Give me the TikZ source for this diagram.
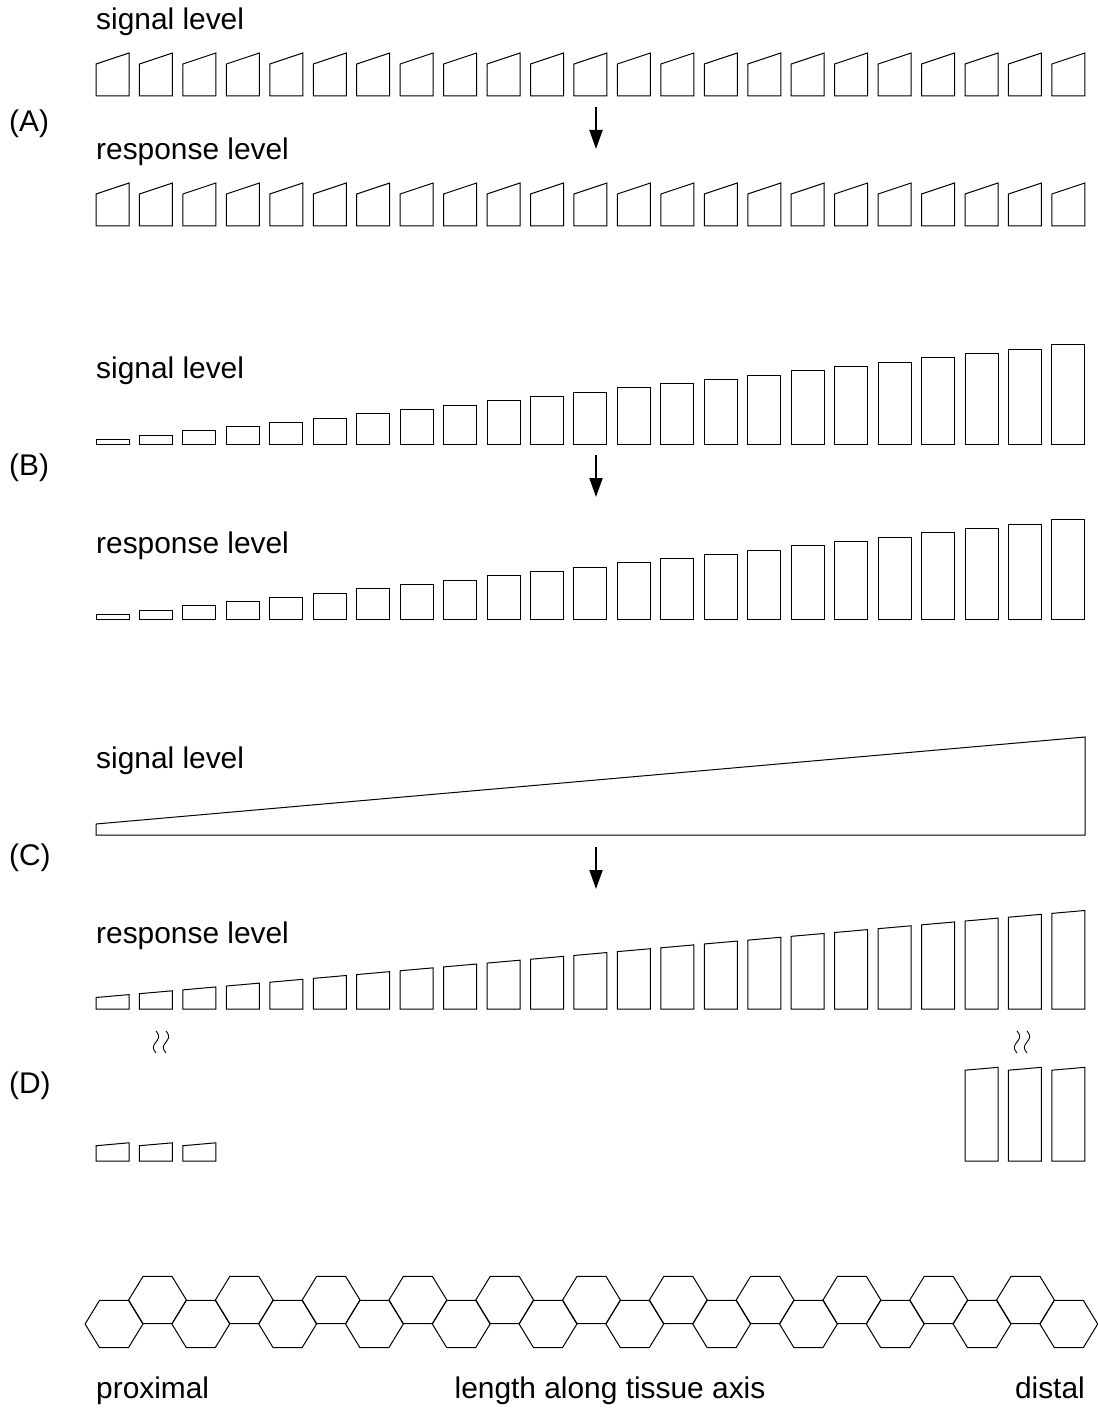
\documentclass[tikz,border=0pt]{standalone}
\usepackage{fontspec}
\setmainfont{Liberation Sans}
\usetikzlibrary{arrows.meta}
\begin{document}
\begin{tikzpicture}[x=1bp,y=-1bp,line join=miter,
  bar/.style={draw=black,line width=1bp},
  lbl/.style={anchor=base west,inner sep=0pt,font=\fontsize{30}{35}\selectfont},
  flow/.style={-{Triangle[length=19bp,width=13bp]},line width=2bp},
  squig/.style={draw=black,line width=0.9bp}]
\useasboundingbox (0,0) rectangle (1097,1410);
% ---------- (A)
\foreach \i in {0,...,22}{
  \pgfmathsetmacro\xl{96+43.45*\i}
  \draw[bar] (\xl,96) -- (\xl,64) -- (\xl+33,53) -- (\xl+33,96) -- cycle;
  \draw[bar] (\xl,226) -- (\xl,194) -- (\xl+33,183) -- (\xl+33,226) -- cycle;
}
% ---------- (B)
\foreach \i in {0,...,22}{
  \pgfmathsetmacro\xl{96+43.45*\i}
  \pgfmathsetmacro\h{4.5+4.3*\i}
  \draw[bar] (\xl,444) rectangle (\xl+33,444-\h);
  \draw[bar] (\xl,619) rectangle (\xl+33,619-\h);
}
% ---------- (C)
\draw[bar] (96,835) -- (96,824) -- (1085,737) -- (1085,835) -- cycle;
\foreach \i in {0,...,22}{
  \pgfmathsetmacro\xl{96+43.45*\i}
  \pgfmathsetmacro\ha{11.5+0.088*43.45*\i}
  \pgfmathsetmacro\hb{\ha+0.088*33}
  \draw[bar] (\xl,1009) -- (\xl,1009-\ha) -- (\xl+33,1009-\hb) -- (\xl+33,1009) -- cycle;
}
% ---------- (D)
\foreach \i in {0,1,2}{
  \pgfmathsetmacro\xl{96+43.45*\i}
  \draw[bar] (\xl,1161) -- (\xl,1161-15.3) -- (\xl+33,1161-18.2) -- (\xl+33,1161) -- cycle;
}
\foreach \i in {20,21,22}{
  \pgfmathsetmacro\xl{96+43.45*\i}
  \draw[bar] (\xl,1161) -- (\xl,1161-90.8) -- (\xl+33,1161-93.7) -- (\xl+33,1161) -- cycle;
}
\foreach \cx in {156,166,1017,1027}{
  \draw[squig] plot[domain=0:1,samples=30,smooth] ({\cx+2.6*sin(360*\x)},{1031+22*\x});
}
% ---------- hexagons
\foreach \k in {0,...,11}{
  \pgfmathsetmacro\cx{114+86.8*\k}
  \draw[bar] (\cx-28.9,1324) -- (\cx-14.5,1300.4) -- (\cx+14.5,1300.4) -- (\cx+28.9,1324) -- (\cx+14.5,1347.6) -- (\cx-14.5,1347.6) -- cycle;
}
\foreach \k in {0,...,10}{
  \pgfmathsetmacro\cx{157.5+86.8*\k}
  \draw[bar] (\cx-28.9,1300) -- (\cx-14.5,1276.4) -- (\cx+14.5,1276.4) -- (\cx+28.9,1300) -- (\cx+14.5,1323.6) -- (\cx-14.5,1323.6) -- cycle;
}
% ---------- arrows
\coordinate (a1) at (596,107); \coordinate (a2) at (596,149);
\coordinate (b1) at (596,455); \coordinate (b2) at (596,497);
\coordinate (c1) at (596,847); \coordinate (c2) at (596,889);
\draw[flow] (a1) -- (a2);
\draw[flow] (b1) -- (b2);
\draw[flow] (c1) -- (c2);
% ---------- texts
\node[lbl] (sigA) at (96,30) {signal level};
\node[lbl] (labA) at (9,132) {(A)};
\node[lbl] (resA) at (96,160) {response level};
\node[lbl] (sigB) at (96,378) {signal level};
\node[lbl] (labB) at (9,475) {(B)};
\node[lbl] (resB) at (96,553) {response level};
\node[lbl] (sigC) at (96,768) {signal level};
\node[lbl] (labC) at (9,865) {(C)};
\node[lbl] (resC) at (96,943) {response level};
\node[lbl] (labD) at (9,1093) {(D)};
\node[lbl] (prox) at (96,1398) {proximal};
\node[lbl,anchor=base] (axis) at (610,1398) {length along tissue axis};
\node[lbl,anchor=base east] (dist) at (1085,1398) {distal};
\end{tikzpicture}
\end{document}
